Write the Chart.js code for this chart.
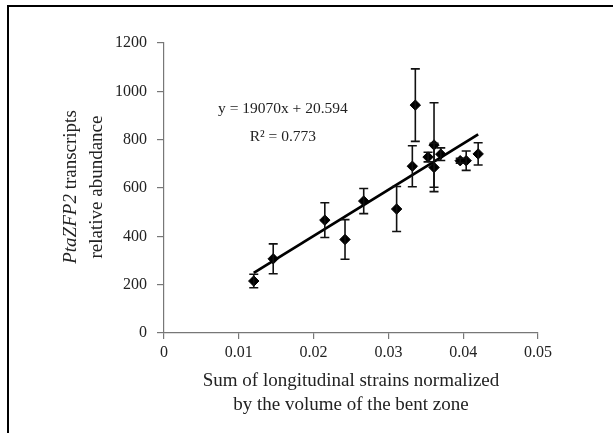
<!DOCTYPE html>
<html>
<head>
<meta charset="utf-8">
<script src="https://cdn.jsdelivr.net/npm/chart.js@4.4.0/dist/chart.umd.min.js"></script>
<style>
  html, body { margin: 0; padding: 0; background: #fff; }
  #wrap { position: relative; width: 613px; height: 433px; overflow: hidden; }
  #frame { position: absolute; left: 7px; top: 5px; width: 700px; height: 500px;
           border-left: 2px solid #000; border-top: 2px solid #000; pointer-events: none; }
</style>
</head>
<body>
<div id="wrap">
  <canvas id="c" width="613" height="433"></canvas>
  <div id="frame"></div>
</div>
<script>
// ---- data ----
const strainValues = [0.0120, 0.0146, 0.0215, 0.0242, 0.0267, 0.0311, 0.0332, 0.0336, 0.0353, 0.0361, 0.0361, 0.0370, 0.0396, 0.0404, 0.0420];
const abundanceValues = [215, 307, 467, 387, 546, 513, 690, 943, 728, 778, 685, 740, 713, 713, 741];
const abundanceErrors = [28, 62, 72, 82, 52, 93, 85, 150, 20, 175, 100, 26, 10, 40, 46];
const trendX = [0.012, 0.042];
const trendY = [249, 822];
const xTickLabels = ['0', '0.01', '0.02', '0.03', '0.04', '0.05'];
const yTickLabels = ['0', '200', '400', '600', '800', '1000', '1200'];
const equationText = 'y = 19070x + 20.594';
const r2Label = 'R² = 0.773';
const equationPos = [0.0159, 927];
const r2Pos = [0.0159, 811];
const xTitleLines = ['Sum of longitudinal strains normalized', 'by the volume of the bent zone'];
const yTitleItalic = 'PtaZFP2';
const yTitleRest = ' transcripts';
const yTitleLine2 = 'relative abundance';

const FONT = "'Liberation Serif', 'Times New Roman', serif";
const TXT = '#222';
const AXIS = '#777';

const scatterData = strainValues.map((x, i) => ({ x: x, y: abundanceValues[i] }));
const trendData = trendX.map((x, i) => ({ x: x, y: trendY[i] }));

const errorBarPlugin = {
  id: 'errorBars',
  afterDatasetsDraw(chart) {
    const { ctx, scales: { x, y } } = chart;
    ctx.save();
    ctx.strokeStyle = '#111';
    ctx.lineWidth = 1.6;
    strainValues.forEach((xv, i) => {
      const e = abundanceErrors[i];
      if (!e) return;
      const px = x.getPixelForValue(xv);
      const top = y.getPixelForValue(abundanceValues[i] + e);
      const bot = y.getPixelForValue(abundanceValues[i] - e);
      ctx.beginPath();
      ctx.moveTo(px, top); ctx.lineTo(px, bot);
      ctx.moveTo(px - 4.5, top); ctx.lineTo(px + 4.5, top);
      ctx.moveTo(px - 4.5, bot); ctx.lineTo(px + 4.5, bot);
      ctx.stroke();
    });
    ctx.restore();
  }
};

const textPlugin = {
  id: 'texts',
  afterDraw(chart) {
    const { ctx, scales: { x, y } } = chart;
    ctx.save();
    ctx.fillStyle = TXT;
    ctx.textBaseline = 'middle';
    ctx.textAlign = 'center';
    ctx.font = '15.5px ' + FONT;
    ctx.fillText(equationText, x.getPixelForValue(equationPos[0]), y.getPixelForValue(equationPos[1]));
    ctx.fillText(r2Label, x.getPixelForValue(r2Pos[0]), y.getPixelForValue(r2Pos[1]));

    // y-axis title (two lines, first with italic gene name)
    const cy = 187;
    const fs = '19px ';
    ctx.save();
    ctx.translate(71, cy);
    ctx.rotate(-Math.PI / 2);
    ctx.textAlign = 'left';
    ctx.font = 'italic ' + fs + FONT;
    const w1 = ctx.measureText(yTitleItalic).width;
    ctx.font = fs + FONT;
    const w2 = ctx.measureText(yTitleRest).width;
    const start = -(w1 + w2) / 2;
    ctx.font = 'italic ' + fs + FONT;
    ctx.fillText(yTitleItalic, start, 0);
    ctx.font = fs + FONT;
    ctx.fillText(yTitleRest, start + w1, 0);
    ctx.restore();
    ctx.save();
    ctx.translate(97, cy);
    ctx.rotate(-Math.PI / 2);
    ctx.textAlign = 'center';
    ctx.font = fs + FONT;
    ctx.fillText(yTitleLine2, 0, 0);
    ctx.restore();
    ctx.restore();
  }
};

new Chart(document.getElementById('c'), {
  type: 'scatter',
  data: {
    datasets: [
      {
        type: 'line',
        data: trendData,
        borderColor: '#000',
        borderWidth: 2.8,
        pointRadius: 0,
        fill: false,
        order: 2
      },
      {
        data: scatterData,
        pointStyle: 'rectRot',
        pointRadius: 5.2,
        backgroundColor: '#000',
        borderColor: '#000',
        borderWidth: 1,
        order: 1
      }
    ]
  },
  options: {
    responsive: false,
    animation: false,
    devicePixelRatio: 1,
    layout: { padding: { left: 0, top: 43, right: 75, bottom: 0 } },
    plugins: { legend: { display: false }, tooltip: { enabled: false } },
    scales: {
      x: {
        type: 'linear',
        min: 0, max: 0.05,
        afterFit(s) { s.height = 100; },
        afterBuildTicks(s) { s.ticks = xTickLabels.map(t => ({ value: parseFloat(t) })); },
        ticks: {
          callback: (v, i) => xTickLabels[i],
          color: TXT, font: { family: FONT, size: 16 }, padding: 4, maxRotation: 0, autoSkip: false
        },
        grid: { display: true, drawOnChartArea: false, drawTicks: true, tickLength: 6, color: AXIS, lineWidth: 1.2 },
        border: { display: true, color: AXIS, width: 1.2 },
        title: {
          display: true, text: xTitleLines, color: TXT,
          font: { family: FONT, size: 19, lineHeight: 1.27 },
          padding: { top: 0, bottom: 16 }
        }
      },
      y: {
        type: 'linear',
        min: 0, max: 1200,
        afterFit(s) { s.width = 164; },
        afterBuildTicks(s) { s.ticks = yTickLabels.map(t => ({ value: parseFloat(t) })); },
        ticks: {
          callback: (v, i) => yTickLabels[i],
          color: TXT, font: { family: FONT, size: 16 }, padding: 10, autoSkip: false
        },
        grid: { display: true, drawOnChartArea: false, drawTicks: true, tickLength: 7, color: AXIS, lineWidth: 1.2 },
        border: { display: true, color: AXIS, width: 1.2 }
      }
    }
  },
  plugins: [errorBarPlugin, textPlugin]
});
</script>
</body>
</html>
